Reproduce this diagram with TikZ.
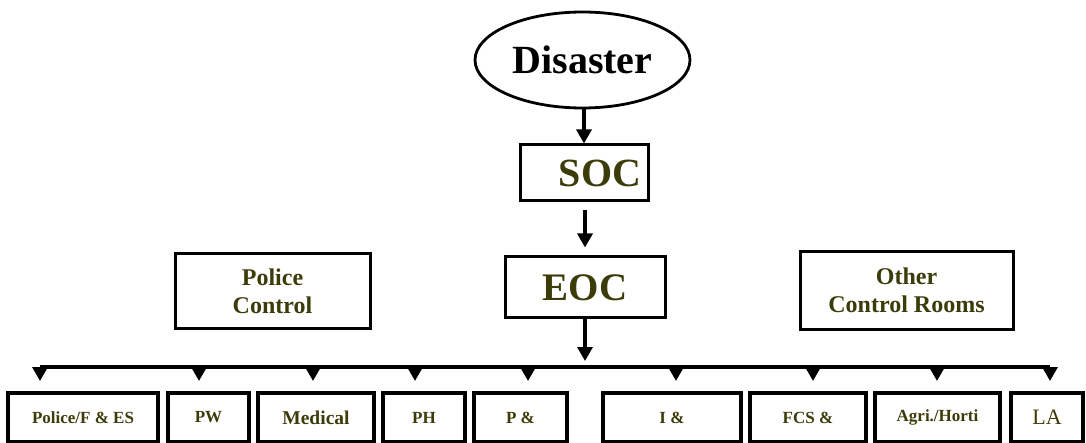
\documentclass[tikz,border=0pt]{standalone}
\usepackage{fontspec}
\setmainfont{Liberation Serif}
\usetikzlibrary{shapes.geometric,arrows.meta}
\definecolor{olivetxt}{RGB}{60,60,10}
\begin{document}
\begin{tikzpicture}[x=1pt,y=-1pt,
  box/.style={draw, line width=3pt, inner sep=0pt, text=olivetxt, align=center},
  sbox/.style={draw, line width=4pt, inner sep=0pt, minimum height=49pt, text=olivetxt,
    font=\bfseries\fontsize{17}{20}\selectfont},
  arr/.style={line width=3.2pt, -{Triangle[length=14pt,width=15pt]}},
  bus/.style={line width=3.2pt},
]
\useasboundingbox (0,0) rectangle (1086,443);
% top chain
\node[draw, ellipse, line width=2.8pt, inner sep=0pt, minimum width=215pt, minimum height=96pt,
  font=\bfseries\fontsize{40}{48}\selectfont] (dis) at (582.5,60) {Disaster};
\node[box, minimum width=128pt, minimum height=56pt, font=\bfseries\fontsize{40}{48}\selectfont]
  (soc) at (584,173) {\hspace*{32pt}SOC};
\node[box, minimum width=160pt, minimum height=61pt, font=\bfseries\fontsize{39}{47}\selectfont]
  (eoc) at (585,287.5) {EOC};
\node[box, minimum width=195pt, minimum height=75pt, font=\bfseries\fontsize{24}{28}\selectfont]
  (pol) at (272.5,291) {Police\\Control};
\node[box, minimum width=213pt, minimum height=77pt, font=\bfseries\fontsize{24}{28}\selectfont]
  (oth) at (906.5,290.5) {Other\\Control Rooms};
\draw[arr] (soc.north |- dis.south) -- (soc.north);
\draw[arr, shorten <=8pt, shorten >=8pt] (soc.south -| eoc.north) -- (eoc.north);
% bus
\coordinate (bus) at (585,367);
\draw[arr, shorten >=6pt] (eoc.south) -- (bus);
% bottom boxes
\node[sbox, minimum width=150pt] (b1) at (83,417.5) {Police/F \& ES};
\node[sbox, minimum width=81pt] (b2) at (208.5,417.5) {PW};
\node[sbox, minimum width=116pt, font=\bfseries\fontsize{19.5}{23}\selectfont] (b3) at (316,417.5) {Medical};
\node[sbox, minimum width=82pt] (b4) at (424,417.5) {PH};
\node[sbox, minimum width=93pt] (b5) at (520.5,417.5) {P \&};
\node[sbox, minimum width=138pt] (b6) at (672,417.5) {I \&};
\node[sbox, minimum width=116pt] (b7) at (808,417.5) {FCS \&};
\node[sbox, minimum width=125pt] (b8) at (937.5,417.5) {Agri./Horti};
\node[sbox, minimum width=72pt, font=\fontsize{22}{26}\selectfont] (b9) at (1047,417.5) {LA};
\coordinate (t1) at (40,367);
\coordinate (t2) at (199,367);
\coordinate (t3) at (313,367);
\coordinate (t4) at (415,367);
\coordinate (t5) at (528,367);
\coordinate (t6) at (676,367);
\coordinate (t7) at (813,367);
\coordinate (t8) at (937,367);
\coordinate (t9) at (1050,367);
\draw[bus, line join=round] (t1) -- (t9);
\foreach \i in {1,...,9}{
  \draw[arr, shorten >=10pt] (t\i) -- (t\i |- b\i.north);
}
\end{tikzpicture}
\end{document}
